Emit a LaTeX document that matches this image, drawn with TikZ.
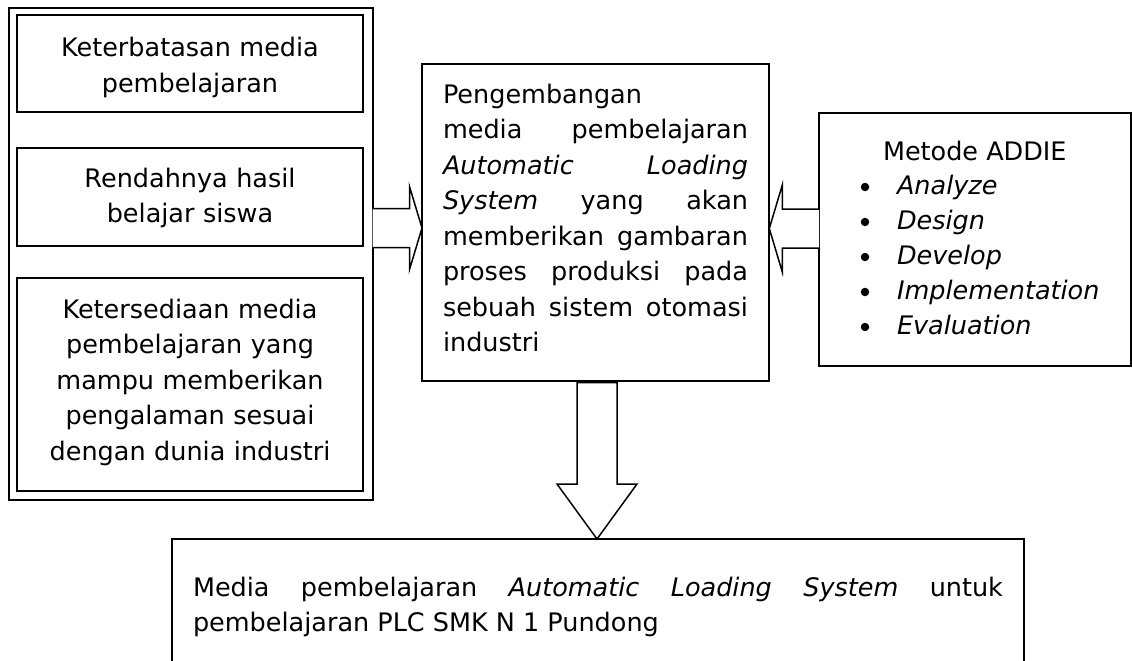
\documentclass[tikz,border=0pt]{standalone}
\usepackage{fontspec}
\setmainfont{DejaVu Sans}
\usetikzlibrary{calc}
\begin{document}
\begin{tikzpicture}[x=1pt,y=-1pt,
  box/.style={draw, line width=1.9pt, inner sep=0pt, outer sep=0pt},
  txt/.style={inner sep=0pt, outer sep=0pt, font=\fontsize{25.5}{35.5}\selectfont},
  blockarrow/.style={draw, fill=white, line width=1.5pt, line join=miter},
  dot/.style={circle, fill=black, inner sep=0pt, minimum size=8.5pt}]
\clip (0,0) rectangle (1132,661);
\fill[white] (0,0) rectangle (1132,661);
\hyphenpenalty=10000

% left column: outer frame with three problem boxes
\node[box, minimum width=363.7, minimum height=491.7] (frame) at (190.85,254.15) {};
\node[box, minimum width=346.6, minimum height=96.7]  (b1) at (190,63.35) {};
\node[box, minimum width=346.6, minimum height=98.3]  (b2) at (190,196.85) {};
\node[box, minimum width=346.6, minimum height=212.4] (b3) at (190,384.5) {};

\node[txt, anchor=north, text width=340, align=center] (t1) at (190,37)
  {\rule{0pt}{20pt}Keterbatasan media\\pembelajaran};
\node[txt, anchor=north, text width=340, align=center] (t2) at (190,167)
  {\rule{0pt}{20pt}Rendahnya hasil\\belajar siswa};
\node[txt, anchor=north, text width=340, align=center] (t3) at (190,298)
  {\rule{0pt}{20pt}Ketersediaan media\\pembelajaran yang\\mampu memberikan\\pengalaman sesuai\\dengan dunia industri};

% central box
\node[box, minimum width=347.3, minimum height=316.7] (cen) at (595.65,222.65) {};
\node[txt, anchor=north west, text width=305, align=justify] (ct) at (443,83)
  {\rule{0pt}{20pt}Pengembangan\newline
   media pembelajaran\linebreak
   \textit{Automatic Loading}\linebreak
   \textit{System} yang akan\linebreak
   memberikan gambaran\linebreak
   proses produksi pada\linebreak
   sebuah sistem otomasi\linebreak
   industri};

% method box
\node[box, minimum width=312, minimum height=253] (addie) at (975,239.5) {};
\node[txt, anchor=base west] (mt) at (883,160) {Metode ADDIE};
\foreach \w [count=\i] in {Analyze,Design,Develop,Implementation,Evaluation} {
  \node[dot] (d\i) at (865,{194+35*(\i-1)-7}) {};
  \node[txt, anchor=base west] (it\i) at (897,{194+35*(\i-1)}) {\textit{\w}};
}

% output box
\node[box, minimum width=852, minimum height=141] (out) at (598,609.5) {};
\node[txt, anchor=north west, text width=810, align=justify] (ot) at (193,576)
  {\rule{0pt}{20pt}Media pembelajaran \textit{Automatic Loading System} untuk\linebreak
   pembelajaran PLC SMK N 1 Pundong};

% block arrows
\coordinate (lmid) at (0,228);
\coordinate (rmid) at (0,228.5);
\coordinate (dmid) at (597,0);

\coordinate (la0) at (frame.east |- lmid);
\coordinate (latip) at (cen.west |- lmid);
\draw[blockarrow] ($(la0)+(0,-19.5)$) -- ($(latip)+(-12.5,-19.5)$) -- ($(latip)+(-12.5,-41.5)$)
  -- (latip) -- ($(latip)+(-12.5,41.5)$) -- ($(latip)+(-12.5,19.5)$) -- ($(la0)+(0,19.5)$);

\coordinate (ra0) at (addie.west |- rmid);
\coordinate (ratip) at (cen.east |- rmid);
\draw[blockarrow] ($(ra0)+(0,-19.5)$) -- ($(ratip)+(13,-19.5)$) -- ($(ratip)+(13,-43.5)$)
  -- (ratip) -- ($(ratip)+(13,43.5)$) -- ($(ratip)+(13,19.5)$) -- ($(ra0)+(0,19.5)$);

\coordinate (da0) at (cen.south -| dmid);
\coordinate (datip) at (out.north -| dmid);
\draw[blockarrow] ($(da0)+(-20,1.5)$) -- ($(datip)+(-20,-55)$) -- ($(datip)+(-40,-55)$)
  -- (datip) -- ($(datip)+(40,-55)$) -- ($(datip)+(20,-55)$) -- ($(da0)+(20,1.5)$) -- cycle;
\end{tikzpicture}
\end{document}
